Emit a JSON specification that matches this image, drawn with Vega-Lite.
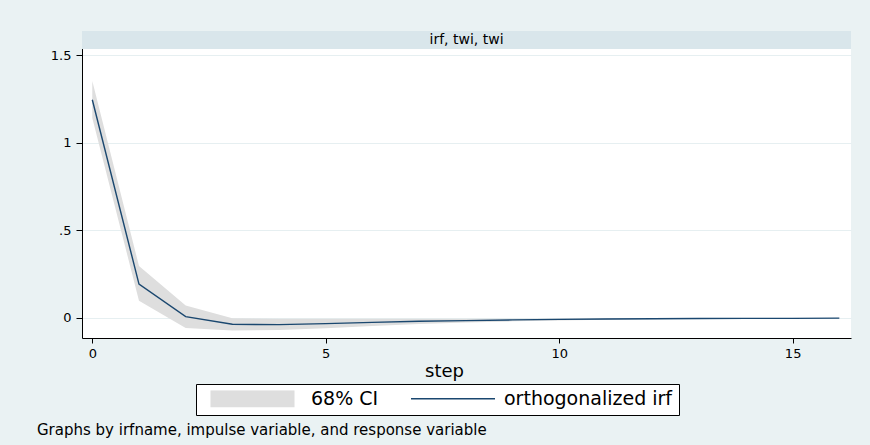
{
  "$schema": "https://vega.github.io/schema/vega-lite/v6.json",
  "autosize": {"type": "none"},
  "width": 769,
  "height": 307,
  "padding": {"left": 82, "top": 31, "right": 19, "bottom": 107},
  "background": "#EAF2F3",
  "config": {"view": {"fill": "white", "stroke": null}, "font": "DejaVu Sans"},
  "title": {
    "text": "Graphs by irfname, impulse variable, and response variable",
    "orient": "bottom",
    "anchor": "start",
    "frame": "group",
    "fontSize": 15,
    "fontWeight": "normal",
    "font": "DejaVu Sans",
    "color": "#000",
    "dx": -45,
    "offset": 19,
    "baseline": "alphabetic"
  },
  "layer": [
    {
      "data": {
        "values": [
          {"step": 0, "irf": 1.247, "lo": 1.143, "hi": 1.354},
          {"step": 1, "irf": 0.194, "lo": 0.099, "hi": 0.297},
          {"step": 2, "irf": 0.008, "lo": -0.057, "hi": 0.071},
          {"step": 3, "irf": -0.036, "lo": -0.072, "hi": -0.002},
          {"step": 4, "irf": -0.038, "lo": -0.069, "hi": -0.004},
          {"step": 5, "irf": -0.032, "lo": -0.059, "hi": -0.004},
          {"step": 6, "irf": -0.025, "lo": -0.046, "hi": -0.005},
          {"step": 7, "irf": -0.019, "lo": -0.034, "hi": -0.005},
          {"step": 8, "irf": -0.015, "lo": -0.026, "hi": -0.005},
          {"step": 9, "irf": -0.011, "lo": -0.019, "hi": -0.004},
          {"step": 10, "irf": -0.008, "lo": -0.014, "hi": -0.003},
          {"step": 11, "irf": -0.006, "lo": -0.010, "hi": -0.002},
          {"step": 12, "irf": -0.004, "lo": -0.007, "hi": -0.001},
          {"step": 13, "irf": -0.003, "lo": -0.005, "hi": -0.001},
          {"step": 14, "irf": -0.002, "lo": -0.004, "hi": 0.000},
          {"step": 15, "irf": -0.002, "lo": -0.003, "hi": 0.000},
          {"step": 16, "irf": -0.001, "lo": -0.002, "hi": 0.000}
        ]
      },
      "layer": [
        {
          "mark": {"type": "area", "opacity": 1},
          "encoding": {
            "x": {
              "field": "step",
              "type": "quantitative",
              "scale": {"domain": [-0.2205, 16.25], "nice": false, "zero": false},
              "axis": {
                "values": [0, 5, 10, 15],
                "title": "step",
                "grid": false,
                "domainColor": "#000",
                "domainWidth": 1,
                "tickColor": "#000",
                "tickSize": 5,
                "labelPadding": 4,
                "labelFontSize": 13,
                "labelFont": "DejaVu Sans",
                "labelColor": "#000",
                "labelFlush": false,
                "titleFont": "DejaVu Sans",
                "titleFontSize": 18,
                "titleFontWeight": "normal",
                "titleColor": "#000",
                "titleX": 362,
                "titleY": 38,
                "titleBaseline": "alphabetic"
              }
            },
            "y": {
              "field": "lo",
              "type": "quantitative",
              "scale": {"domain": [-0.1143, 1.64], "nice": false, "zero": false},
              "axis": {
                "values": [0, 0.5, 1, 1.5],
                "title": null,
                "grid": true,
                "gridColor": "#E6EFF1",
                "gridWidth": 1,
                "domainColor": "#000",
                "domainWidth": 1,
                "tickColor": "#000",
                "tickSize": 6,
                "labelPadding": 5,
                "labelFontSize": 13,
                "labelFont": "DejaVu Sans",
                "labelColor": "#000",
                "labelFlush": false,
                "labelExpr": "datum.value == 0.5 ? '.5' : format(datum.value, '~g')"
              }
            },
            "y2": {"field": "hi"},
            "color": {
              "datum": "68% CI",
              "type": "nominal",
              "scale": {"domain": ["68% CI", "orthogonalized irf"], "range": ["#DEDEDE", "#1A476F"]},
              "legend": {
                "orient": "none",
                "legendX": 114,
                "legendY": 353,
                "direction": "horizontal",
                "title": null,
                "symbolType": "stroke",
                "symbolSize": 7056,
                "clipHeight": 17,
                "labelFontSize": 19,
                "labelFont": "DejaVu Sans",
                "labelColor": "#000",
                "labelOffset": 8,
                "labelLimit": 400,
                "columnPadding": 31,
                "padding": 6,
                "strokeColor": "#000",
                "fillColor": "white"
              }
            },
            "strokeWidth": {
              "datum": "68% CI",
              "type": "nominal",
              "scale": {"type": "point", "padding": 0, "domain": ["68% CI", "orthogonalized irf"], "range": [17, 1.4]}
            }
          }
        },
        {
          "mark": {"type": "line"},
          "encoding": {
            "x": {"field": "step", "type": "quantitative"},
            "y": {"field": "irf", "type": "quantitative"},
            "color": {"datum": "orthogonalized irf", "type": "nominal"},
            "strokeWidth": {"datum": "orthogonalized irf", "type": "nominal"}
          }
        }
      ]
    },
    {
      "data": {"values": [{"label": "irf, twi, twi"}]},
      "layer": [
        {
          "mark": {"type": "rect", "fill": "#D9E6EB"},
          "encoding": {
            "x": {"datum": -0.2205, "type": "quantitative"},
            "x2": {"datum": 16.25},
            "y": {"datum": 1.537, "type": "quantitative"},
            "y2": {"datum": 1.64}
          }
        },
        {
          "mark": {"type": "text", "fontSize": 14, "baseline": "middle", "align": "center", "color": "#000", "font": "DejaVu Sans"},
          "encoding": {
            "text": {"field": "label", "type": "nominal"},
            "x": {"datum": 8.015, "type": "quantitative"},
            "y": {"datum": 1.589, "type": "quantitative"}
          }
        }
      ]
    }
  ]
}
